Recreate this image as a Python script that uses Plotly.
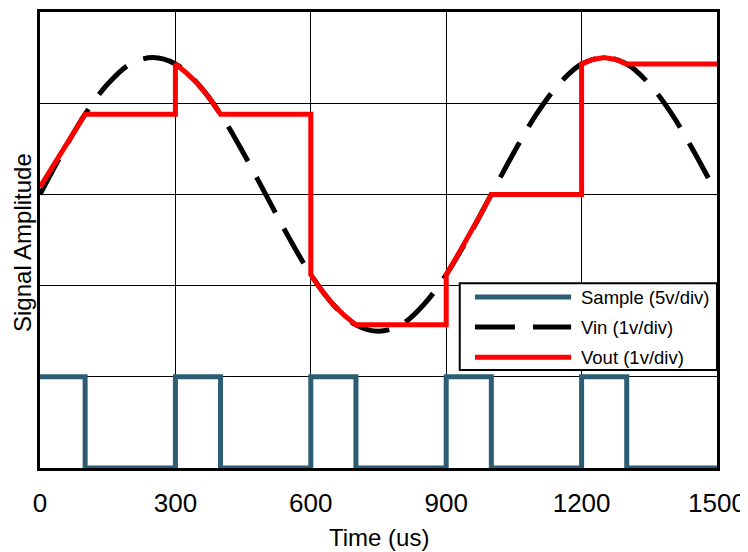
import plotly.graph_objects as go

# Time axis (us) and traces
vin_t = [0, 50, 100, 150, 200, 250, 300, 350, 400, 450, 500, 550, 600, 650, 700, 750,
         800, 850, 900, 950, 1000, 1050, 1100, 1150, 1200, 1250, 1300, 1350, 1400, 1450, 1500]
vin_v = [3.00, 3.46, 3.88, 4.21, 4.43, 4.50, 4.43, 4.21, 3.88, 3.46, 3.00, 2.54, 2.12, 1.79, 1.57, 1.50,
         1.57, 1.79, 2.12, 2.54, 3.00, 3.46, 3.88, 4.21, 4.43, 4.50, 4.43, 4.21, 3.88, 3.46, 3.00]

vout_t = [0, 100, 300, 300, 325, 350, 375, 400, 600, 600, 625, 650, 675, 700, 900,
          900, 925, 950, 975, 1000, 1200, 1200, 1225, 1250, 1275, 1300, 1500]
vout_v = [3.08, 3.88, 3.88, 4.43, 4.33, 4.21, 4.06, 3.88, 3.88, 2.12, 1.94, 1.79, 1.67, 1.57, 1.57,
          2.12, 2.33, 2.54, 2.77, 3.00, 3.00, 4.43, 4.48, 4.50, 4.48, 4.43, 4.43]

sample_t = [0, 100, 100, 300, 300, 400, 400, 600, 600, 700, 700, 900, 900, 1000,
            1000, 1200, 1200, 1300, 1300, 1500]
sample_v = [1, 1, 0, 0, 1, 1, 0, 0, 1, 1, 0, 0, 1, 1, 0, 0, 1, 1, 0, 0]

x_ticks = [0, 300, 600, 900, 1200, 1500]

names = ["Sample (5v/div)", "Vin (1v/div)", "Vout (1v/div)"]
colors = ["#2C5D75", "black", "#FF0000"]
dashes = ["solid", "40px,18px", "solid"]

fig = go.Figure()
fig.add_trace(go.Scatter(x=sample_t, y=sample_v, mode="lines", name=names[0],
                         line=dict(color=colors[0], width=5), showlegend=False))
fig.add_trace(go.Scatter(x=vin_t, y=vin_v, mode="lines", name=names[1], line_shape="spline",
                         line=dict(color=colors[1], width=5, dash=dashes[1]), showlegend=False))
fig.add_trace(go.Scatter(x=vout_t, y=vout_v, mode="lines", name=names[2],
                         line=dict(color=colors[2], width=5), showlegend=False))

# hand-drawn legend box (long sample lines like the original)
fig.add_shape(type="rect", xref="paper", yref="paper", x0=0.620, x1=1.0, y0=0.215, y1=0.405,
              line=dict(color="black", width=2), fillcolor="white", layer="above")
for i in range(3):
    yy = 0.375 - i * 0.066
    fig.add_shape(type="line", xref="paper", yref="paper", x0=0.6425, x1=0.7845, y0=yy, y1=yy,
                  line=dict(color=colors[i], width=5, dash=dashes[i]), layer="above")
    fig.add_annotation(xref="paper", yref="paper", x=0.796, y=yy, text=names[i], showarrow=False,
                       xanchor="left", yanchor="middle", font=dict(size=18.5, color="black"))

# axis titles as annotations so they sit where the original has them
fig.add_annotation(xref="paper", yref="paper", x=0.5, y=0, yshift=-69, text="Time (us)",
                   showarrow=False, xanchor="center", yanchor="middle", font=dict(size=24))
fig.add_annotation(xref="paper", yref="paper", x=0, y=0.5, xshift=-18, yshift=-3,
                   text="Signal Amplitude", textangle=-90, showarrow=False,
                   xanchor="center", yanchor="middle", font=dict(size=24))

# page has an 8px body margin, so the figure is a bit smaller than the window
fig.update_layout(
    width=740, height=544,
    margin=dict(l=32, r=31, t=4, b=84),
    paper_bgcolor="white", plot_bgcolor="white",
    font=dict(family="Liberation Sans, Arial, sans-serif", color="black"),
    xaxis=dict(range=[0, 1500], tickvals=x_ticks, showgrid=True, gridcolor="black", gridwidth=1,
               showline=True, linecolor="black", linewidth=3, mirror=True, ticks="",
               tickfont=dict(size=26), zeroline=False, automargin=False, ticklabelstandoff=10),
    yaxis=dict(range=[0, 5], dtick=1, showgrid=True, gridcolor="black", gridwidth=1,
               showline=True, linecolor="black", linewidth=3, mirror=True, ticks="",
               showticklabels=False, zeroline=False, automargin=False),
)

fig.write_html("out.html")
